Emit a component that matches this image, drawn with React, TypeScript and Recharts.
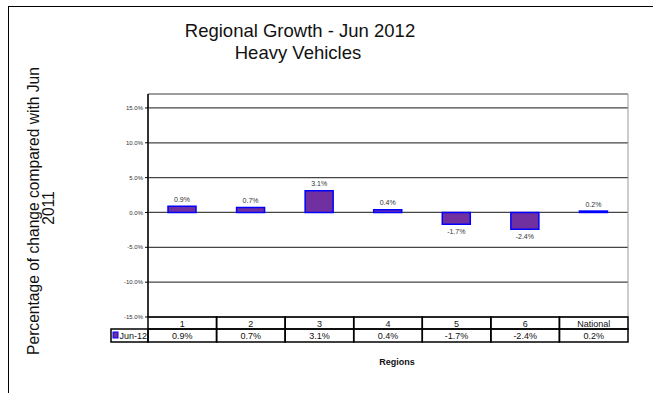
import React from "react";
import {
  BarChart,
  Bar,
  XAxis,
  YAxis,
  CartesianGrid,
  LabelList,
  ReferenceArea,
} from "recharts";

const regions = ["1", "2", "3", "4", "5", "6", "National"];
const growth = [0.9, 0.7, 3.1, 0.4, -1.7, -2.4, 0.2];
const yTicks = [-15, -10, -5, 0, 5, 10, 15];
const seriesName = "Jun-12";
const titleLines = ["Regional Growth - Jun 2012", "Heavy Vehicles"];
const yLabelLines = ["Percentage of change compared with Jun", "2011"];

const data = regions.map((region, i) => ({ region, value: growth[i] }));

const FONT = "'Liberation Sans', Arial, sans-serif";
const BAR_FILL = "#7030A0";
const BAR_STROKE = "#0000FF";

const pct = (v: number) => `${v.toFixed(1)}%`;

// data table drawn under the plot, one column per category
const TableTick = (props: any) => {
  const { x, y, payload } = props;
  const w = payload && payload.offset ? payload.offset * 2 : 480 / regions.length;
  const left = x - w / 2;
  const idx = regions.indexOf(String(payload.value));
  return (
    <g>
      <rect x={left} y={y} width={w} height={12} fill="none" stroke="#000" strokeWidth={1.5} />
      <rect x={left} y={y + 12} width={w} height={13} fill="none" stroke="#000" strokeWidth={1.5} />
      <text x={x} y={y + 9.5} textAnchor="middle" fontSize={9} fill="#111" fontFamily={FONT}>
        {payload.value}
      </text>
      <text x={x} y={y + 22} textAnchor="middle" fontSize={9} fill="#111" fontFamily={FONT}>
        {pct(growth[idx])}
      </text>
      {idx === 0 && (
        <g>
          <rect x={left - 37} y={y + 12} width={37} height={13} fill="none" stroke="#000" strokeWidth={1.5} />
          <rect x={left - 35} y={y + 15} width={5} height={6} fill={BAR_FILL} stroke={BAR_STROKE} strokeWidth={1} />
          <text x={left - 28.5} y={y + 22} fontSize={9} fill="#111" fontFamily={FONT}>
            {seriesName}
          </text>
        </g>
      )}
    </g>
  );
};

const BarValueLabel = (props: any) => {
  const { x, y, width, height, value } = props;
  const top = Math.min(y, y + height);
  const bottom = Math.max(y, y + height);
  const neg = value < 0;
  return (
    <text
      x={x + width / 2}
      y={neg ? bottom + 10 : top - 4.5}
      textAnchor="middle"
      fontSize={7}
      fill="#333"
      fontFamily={FONT}
    >
      {pct(value)}
    </text>
  );
};

const RegionsLabel = (props: any) => {
  const vb = props.viewBox || { x: 148, y: 317, width: 480, height: 50 };
  return (
    <text
      x={vb.x + vb.width / 2 + 9}
      y={vb.y + vb.height - 2}
      textAnchor="middle"
      fontSize={9}
      fontWeight="bold"
      fill="#111"
      fontFamily={FONT}
    >
      Regions
    </text>
  );
};

export default function App() {
  return (
    <div style={{ position: "absolute", left: 0, top: 0, width: 653, height: 393, overflow: "hidden", background: "#fff" }}>
      <div
        style={{
          position: "absolute",
          left: 8,
          top: 6,
          width: 700,
          height: 400,
          borderLeft: "1px solid #000",
          borderTop: "1px solid #000",
        }}
      />
      <BarChart
        width={653}
        height={393}
        data={data}
        margin={{ top: 94, right: 25, bottom: 26, left: 108 }}
        style={{ fontFamily: FONT }}
      >
        <CartesianGrid vertical={false} stroke="#444" strokeWidth={1.2} />
        <ReferenceArea y1={-15} y2={17} fill="none" stroke="#999" strokeWidth={1} />
        <XAxis
          dataKey="region"
          height={50}
          interval={0}
          axisLine={false}
          tickLine={false}
          tickSize={0}
          tickMargin={0}
          tick={<TableTick />}
          label={<RegionsLabel />}
        />
        <YAxis
          width={40}
          domain={[-15, 17]}
          ticks={yTicks}
          allowDataOverflow
          tickFormatter={pct}
          tick={{ fontSize: 6, fill: "#333", fontFamily: FONT }}
          axisLine={{ stroke: "#000", strokeWidth: 1.5 }}
          tickLine={{ stroke: "#000" }}
          tickSize={3}
          tickMargin={2}
        />
        <Bar
          dataKey="value"
          name={seriesName}
          fill={BAR_FILL}
          stroke={BAR_STROKE}
          strokeWidth={1.5}
          barSize={28}
          isAnimationActive={false}
        >
          <LabelList dataKey="value" content={<BarValueLabel />} />
        </Bar>
      </BarChart>
      <svg
        width={653}
        height={393}
        style={{ position: "absolute", left: 0, top: 0, pointerEvents: "none" }}
      >
        <text x={300} y={36.5} textAnchor="middle" fontSize={18.5} fill="#111" fontFamily={FONT}>
          {titleLines[0]}
        </text>
        <text x={298} y={59} textAnchor="middle" fontSize={18.5} fill="#111" fontFamily={FONT}>
          {titleLines[1]}
        </text>
        <text transform="translate(39,211) rotate(-90)" textAnchor="middle" fontSize={15.6} fill="#111" fontFamily={FONT}>
          {yLabelLines[0]}
        </text>
        <text transform="translate(54,208) rotate(-90)" textAnchor="middle" fontSize={15.6} fill="#111" fontFamily={FONT}>
          {yLabelLines[1]}
        </text>
      </svg>
    </div>
  );
}
